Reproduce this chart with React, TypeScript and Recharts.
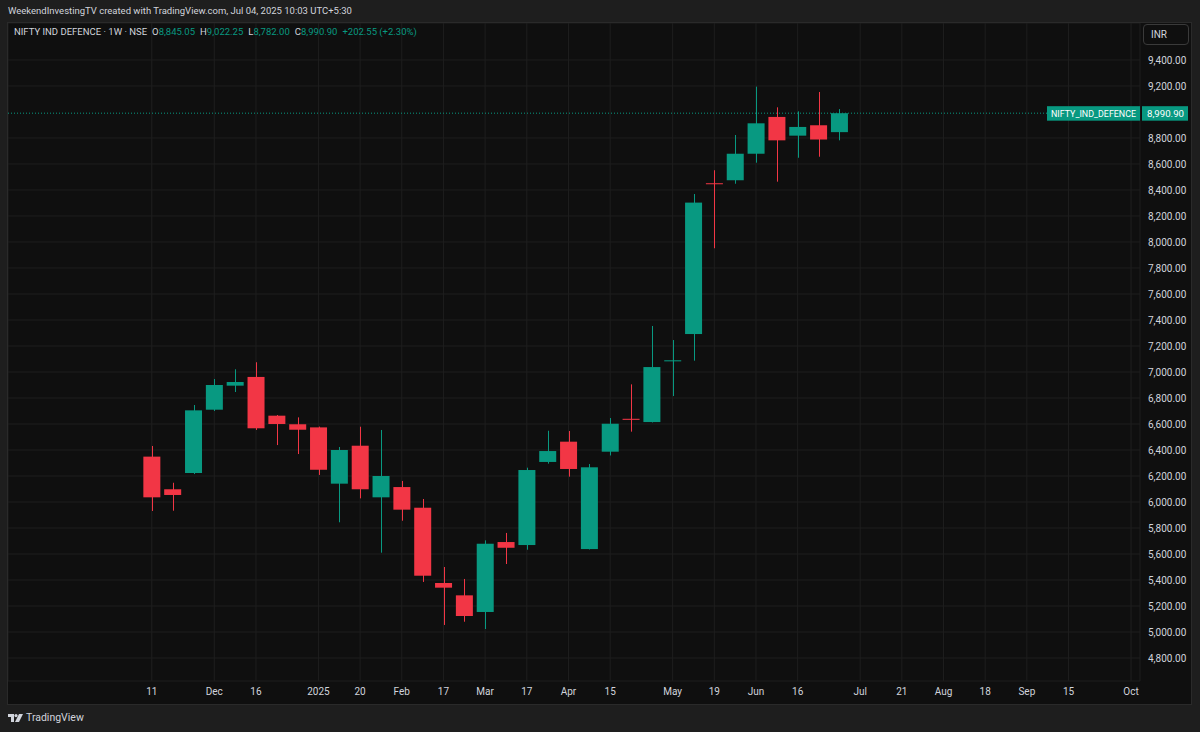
import React from "react";
import { ComposedChart, Bar, XAxis, YAxis, CartesianGrid, ReferenceLine } from "recharts";

// weekly candles, NIFTY IND DEFENCE (NSE)
const weeks = [
  "2024-11-11", "2024-11-18", "2024-11-25", "2024-12-02", "2024-12-09", "2024-12-16",
  "2024-12-23", "2024-12-30", "2025-01-06", "2025-01-13", "2025-01-20", "2025-01-27",
  "2025-02-03", "2025-02-10", "2025-02-17", "2025-02-24", "2025-03-03", "2025-03-10",
  "2025-03-17", "2025-03-24", "2025-04-01", "2025-04-07", "2025-04-15", "2025-04-21",
  "2025-04-28", "2025-05-05", "2025-05-12", "2025-05-19", "2025-05-26", "2025-06-02",
  "2025-06-09", "2025-06-16", "2025-06-23", "2025-06-30",
];
const opens = [
  6349, 6098, 6223, 6710, 6895, 6962, 6664, 6598, 6574, 6141, 6433, 6036,
  6115, 5956, 5377, 5282, 5154, 5692, 5669, 6308, 6464, 5638, 6387, 6640,
  6615, 7082, 7292, 8452, 8475, 8679, 8962, 8818, 8898, 8845.05,
];
const highs = [
  6431, 6148, 6746, 6946, 7021, 7075, 6669, 6651, 6580, 6423, 6579, 6554,
  6162, 6023, 5500, 5408, 5705, 5762, 6264, 6548, 6546, 6292, 6646, 6905,
  7354, 7246, 8369, 8552, 8823, 9195, 9036, 9005, 9154, 9022.25,
];
const lows = [
  5931, 5933, 6215, 6700, 6846, 6554, 6438, 6369, 6208, 5844, 6028, 5610,
  5856, 5385, 5054, 5079, 5023, 5523, 5633, 6295, 6195, 5635, 6358, 6541,
  6612, 6815, 7087, 7952, 8448, 8610, 8464, 8648, 8656, 8782.0,
];
const closes = [
  6036, 6054, 6705, 6900, 6923, 6567, 6600, 6556, 6248, 6400, 6098, 6200,
  5941, 5433, 5341, 5123, 5679, 5648, 6246, 6392, 6254, 6267, 6602, 6632,
  7038, 7090, 8303, 8445, 8679, 8913, 8782, 8885, 8788.35, 8990.9,
];

// time axis: week index -> label
const tickWeeks = [0, 3, 5, 8, 10, 12, 14, 16, 18, 20, 22, 25, 27, 29, 31, 34, 36, 38, 40, 42, 44, 47];
const tickLabels = ["11", "Dec", "16", "2025", "20", "Feb", "17", "Mar", "17", "Apr", "15", "May", "19", "Jun", "16", "Jul", "21", "Aug", "18", "Sep", "15", "Oct"];
const priceTicks = [4800, 5000, 5200, 5400, 5600, 5800, 6000, 6200, 6400, 6600, 6800, 7000, 7200, 7400, 7600, 7800, 8000, 8200, 8400, 8600, 8800, 9200, 9400];
const lastPrice = 8990.9;

const UP = "#089981";
const DOWN = "#f23645";
const TEXT = "#d1d4dc";
const FONT = "Roboto, 'Noto Sans', sans-serif";

const data = weeks.map((date, i) => ({
  i,
  date,
  open: opens[i],
  high: highs[i],
  low: lows[i],
  close: closes[i],
  range: [lows[i], highs[i]],
}));

const fmt = (v: number) =>
  v.toLocaleString("en-US", { minimumFractionDigits: 2, maximumFractionDigits: 2 });

function Candle(props: any) {
  const { x, y, width, height, payload } = props;
  const { open, close, high, low } = payload;
  const color = close >= open ? UP : DOWN;
  const toY = (p: number) => y + ((high - p) / (high - low)) * height;
  const cx = Math.round(x + width / 2) + 0.5;
  const top = toY(Math.max(open, close));
  const h = Math.max(1, toY(Math.min(open, close)) - top);
  return (
    <g>
      <line x1={cx} x2={cx} y1={y} y2={y + height} stroke={color} strokeWidth={1} />
      <rect x={x} y={top} width={width} height={h} fill={color} />
    </g>
  );
}

function LastPriceTag(props: any) {
  const { viewBox } = props;
  const right = viewBox.x + viewBox.width;
  const cy = viewBox.y;
  return (
    <g fontFamily={FONT} fontSize={9.5}>
      <rect x={right - 93} y={cy - 7} width={93} height={14.5} fill={UP} />
      <text x={right - 89} y={cy} dy="0.37em" textLength={85} lengthAdjust="spacingAndGlyphs" fill="#fff">
        NIFTY_IND_DEFENCE
      </text>
      <rect x={right + 2} y={cy - 7} width={46} height={14.5} fill={UP} />
      <text x={right + 7} y={cy} dy="0.37em" textLength={37} lengthAdjust="spacingAndGlyphs" fill="#fff">
        {fmt(lastPrice)}
      </text>
    </g>
  );
}

export default function App() {
  return (
    <div
      style={{
        position: "fixed",
        left: 0,
        top: 0,
        width: 1200,
        height: 732,
        background: "#1e1e1e",
        fontFamily: FONT,
        color: TEXT,
        overflow: "hidden",
      }}
    >
      <div style={{ position: "absolute", left: 8, top: 4, fontSize: 9.5, lineHeight: "14px" }}>
        WeekendInvestingTV created with TradingView.com, Jul 04, 2025 10:03 UTC+5:30
      </div>
      <div
        style={{
          position: "absolute",
          left: 7,
          top: 22,
          width: 1185,
          height: 683,
          boxSizing: "border-box",
          border: "1px solid #2a2a2a",
          background: "#0f0f0f",
        }}
      >
        <ComposedChart width={1183} height={681} data={data} margin={{ top: 0, right: 0, bottom: 0, left: 0 }}>
          <CartesianGrid stroke="#1e1e1e" />
          <XAxis
            dataKey="i"
            type="number"
            domain={[-6.9, 47.43]}
            allowDataOverflow
            ticks={tickWeeks}
            interval={0}
            tickFormatter={(v: number) => tickLabels[tickWeeks.indexOf(v)] ?? ""}
            axisLine={false}
            tickLine={false}
            tickSize={0}
            tickMargin={7}
            height={23}
            tick={{ fill: TEXT, fontSize: 10, fontFamily: FONT }}
          />
          <YAxis
            orientation="right"
            type="number"
            domain={[4623.1, 9684.6]}
            allowDataOverflow
            ticks={priceTicks}
            interval={0}
            tickFormatter={fmt}
            axisLine={false}
            tickLine={false}
            tickSize={0}
            tickMargin={8}
            width={51}
            tick={{ fill: TEXT, fontSize: 10, fontFamily: FONT }}
          />
          <ReferenceLine
            y={lastPrice}
            stroke={UP}
            strokeDasharray="1 2"
            label={(p: any) => <LastPriceTag {...p} />}
          />
          <Bar dataKey="range" barSize={17} shape={<Candle />} isAnimationActive={false} />
        </ComposedChart>
      </div>
      <div style={{ position: "absolute", left: 14, top: 25, fontSize: 9.5, lineHeight: "14px", display: "flex", gap: 5, whiteSpace: "nowrap" }}>
        <span>NIFTY IND DEFENCE · 1W · NSE</span>
        <span>O<span style={{ color: UP }}>{fmt(opens[33])}</span></span>
        <span>H<span style={{ color: UP }}>{fmt(highs[33])}</span></span>
        <span>L<span style={{ color: UP }}>{fmt(lows[33])}</span></span>
        <span>C<span style={{ color: UP }}>{fmt(closes[33])}</span></span>
        <span style={{ color: UP }}>+202.55 (+2.30%)</span>
      </div>
      <div
        style={{
          position: "absolute",
          left: 1143,
          top: 24,
          width: 46,
          height: 21,
          boxSizing: "border-box",
          border: "1px solid #3a3a3a",
          borderRadius: 4,
          fontSize: 10,
          lineHeight: "19px",
          paddingLeft: 7,
        }}
      >
        INR
      </div>
      <div style={{ position: "absolute", left: 8, top: 711, display: "flex", alignItems: "center", gap: 3, fontSize: 10.5 }}>
        <svg width={15} height={8} viewBox="0 0 15 8">
          <path d="M0 0h6v8H3V3H0z" fill={TEXT} />
          <circle cx={8} cy={1.6} r={1.6} fill={TEXT} />
          <path d="M11 0h4l-4 8H7z" fill={TEXT} />
        </svg>
        <span>TradingView</span>
      </div>
    </div>
  );
}
